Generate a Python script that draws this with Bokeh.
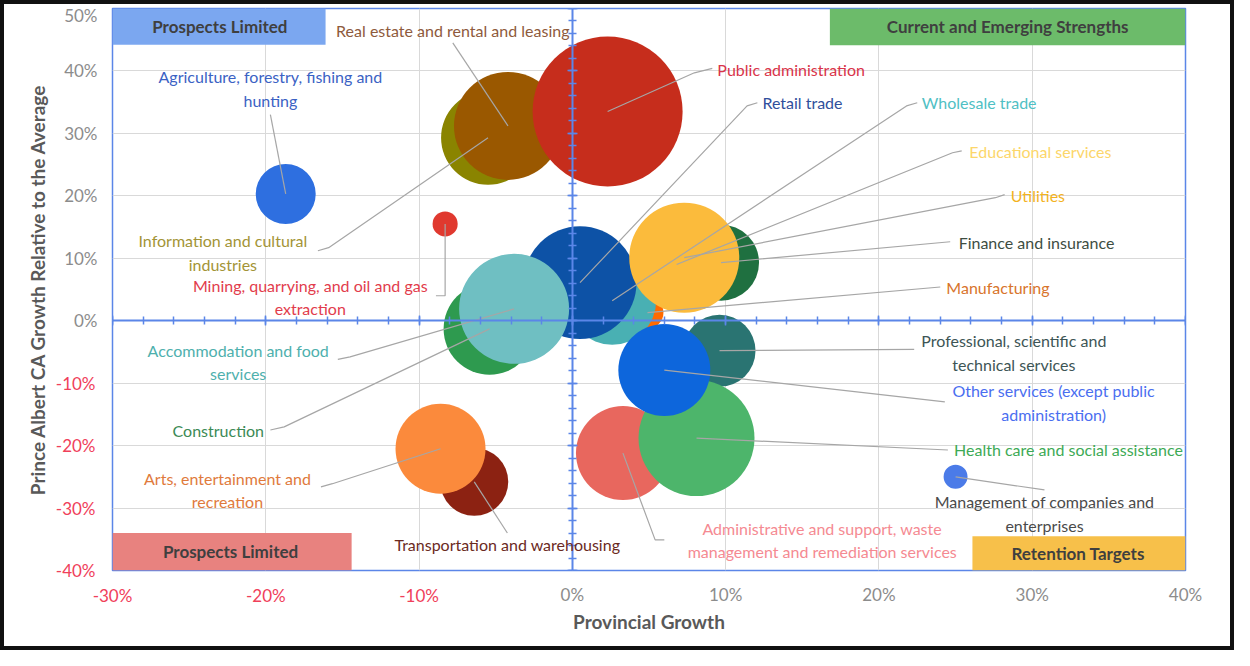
import numpy as np
from bokeh.plotting import figure
from bokeh.models import (LinearAxis, FixedTicker, SingleIntervalTicker, Grid, Range1d,
                          PrintfTickFormatter, BoxAnnotation, Label, ColumnDataSource)
from bokeh.embed import file_html
from bokeh.resources import INLINE

# ---------------- data (draw order: back to front) ----------------
industries = [
    "Information and cultural industries",
    "Real estate and rental and leasing",
    "Public administration",
    "Manufacturing",
    "Wholesale trade",
    "Retail trade",
    "Construction",
    "Accommodation and food services",
    "Finance and insurance",
    "Educational services",
    "Utilities",
    "Professional, scientific and technical services",
    "Administrative and support, waste management and remediation services",
    "Health care and social assistance",
    "Other services (except public administration)",
    "Transportation and warehousing",
    "Arts, entertainment and recreation",
    "Agriculture, forestry, fishing and hunting",
    "Mining, quarrying, and oil and gas extraction",
    "Management of companies and enterprises",
]
provincial_growth = [-5.5, -4.2, 2.3, 4.9, 2.6, 0.5, -5.4, -3.8, 9.7, 6.8,
                     7.3, 9.6, 3.3, 8.1, 6.0, -6.4, -8.6, -18.7, -8.3, 25.0]
relative_growth = [29.3, 31.2, 33.5, 1.3, 3.2, 6.1, -1.3, 1.9, 9.3, 9.0,
                   10.1, -4.8, -21.2, -18.8, -7.9, -25.8, -20.5, 20.3, 15.5, -25.0]
employment = [785, 1037, 2000, 91, 688, 1135, 752, 1076, 513, 222,
              1076, 461, 785, 1196, 752, 411, 720, 320, 56, 51]

x_ticks = [-30, -20, -10, 0, 10, 20, 30, 40]
y_ticks = [-40, -30, -20, -10, 0, 10, 20, 30, 40, 50]

quadrants = ["Prospects Limited", "Current and Emerging Strengths",
             "Prospects Limited", "Retention Targets"]

# ---------------- styles / layout ----------------
bubble_colors = ["#8a8400", "#9a5800", "#c62d1c", "#ff6a00", "#49b0b3", "#0d52a6",
                 "#2e9a4f", "#6fbfc2", "#1f7040", "#f7c95a", "#fbbb3c", "#2a7472",
                 "#e8675e", "#4db56b", "#0d66dc", "#8c2212", "#fb8a3c", "#2e6fe0",
                 "#e0392f", "#4b7be8"]
label_text = [
    "Information and cultural\nindustries",
    "Real estate and rental and leasing",
    "Public administration",
    "Manufacturing",
    "Wholesale trade",
    "Retail trade",
    "Construction",
    "Accommodation and food\nservices",
    "Finance and insurance",
    "Educational services",
    "Utilities",
    "Professional, scientific and\ntechnical services",
    "Administrative and support, waste\nmanagement and remediation services",
    "Health care and social assistance",
    "Other services (except public\nadministration)",
    "Transportation and warehousing",
    "Arts, entertainment and\nrecreation",
    "Agriculture, forestry, fishing and\nhunting",
    "Mining, quarrying, and oil and gas\nextraction",
    "Management of companies and\nenterprises",
]
label_pos = [(-22.8, 10.9), (-7.8, 46.4), (9.46, 40.2), (24.4, 5.3), (22.8, 34.9),
             (12.4, 34.9), (-23.1, -17.5), (-21.8, -6.6), (25.2, 12.5), (25.9, 27.1),
             (28.6, 20.0), (28.8, -5.1), (16.3, -35.1), (24.9, -20.7), (31.4, -13.1),
             (-4.24, -35.9), (-22.5, -27.1), (-19.7, 37.2), (-17.1, 3.8), (30.8, -30.9)]
label_align = ["center", "center", "left", "left", "left", "left", "center", "center",
               "left", "left", "left", "center", "center", "left", "center", "center",
               "center", "center", "center", "center"]
label_colors = ["#a39436", "#8e5a3c", "#d9344a", "#d8742c", "#4fc0c4", "#2f4f9c",
                "#3b8a55", "#4eb0ad", "#3d4d42", "#fcd66a", "#f3b31f", "#3d5555",
                "#f58a92", "#3daa55", "#4a6ef0", "#6b2a1e", "#e07a3c", "#3b62c4",
                "#e23c4c", "#4a4a4a"]
leader_pts = [[(-16.6, 11.2), (-15.9, 11.7)], [(-7.8, 44.5)], [(9.13, 40.4), (7.96, 39.7)],
              [(24.0, 5.4)], [(22.5, 34.9), (21.8, 34.4)], [(12.07, 34.9), (11.4, 34.4)],
              [(-19.7, -17.5), (-18.8, -17.0)], [(-15.3, -6.2), (-14.5, -5.8)],
              [(24.65, 12.65)], [(25.4, 27.2), (24.8, 26.9)], [(28.2, 20.2), (27.6, 19.7)],
              [(22.3, -4.6)], [(6.0, -35.1), (5.4, -35.1)], [(24.5, -20.7)], [(24.3, -13.0)],
              [(-4.24, -34.0)], [(-16.4, -26.6), (-15.65, -26.1)], [(-19.7, 33.0)],
              [(-8.9, 4.0), (-8.3, 4.0)], [(30.8, -27.1)]]

quad_boxes = [(-30, -16.1, 44.2, 50), (16.8, 40, 44.1, 50),
              (-30, -14.4, -40, -34.0), (26.1, 40, -40, -34.5)]
quad_colors = ["#7ba7f0", "#6cbb6a", "#e8827f", "#f7c04a"]
qlabel_pos = [(-23.0, 47.1), (28.4, 47.1), (-22.3, -37.0), (33.0, -37.3)]

FONT = "Lato"
BLUE = "#5b86e8"
RED_TXT = "#f0405a"
GRAY_TXT = "#8c8c8c"
TITLE_TXT = "#595959"
SCALE = 3.354
TICK_FS = "17px"

p = figure(width=1234, height=650, output_backend="svg", toolbar_location=None,
           x_range=Range1d(-30, 40), y_range=Range1d(-40, 50),
           x_axis_type=None, y_axis_type=None,
           min_border_left=108, min_border_right=53, min_border_top=4, min_border_bottom=84)
p.styles = {"border": "4px solid #111111"}
p.outline_line_color = BLUE
p.outline_line_width = 1.5
p.background_fill_color = "white"

# grids
p.add_layout(Grid(dimension=0, ticker=FixedTicker(ticks=x_ticks), grid_line_color="#d9d9d9"))
p.add_layout(Grid(dimension=1, ticker=FixedTicker(ticks=y_ticks), grid_line_color="#d9d9d9"))

fmt = PrintfTickFormatter(format="%d%%")

def edge_axis(ticks, color, **kw):
    return LinearAxis(ticker=FixedTicker(ticks=ticks), formatter=fmt,
                      axis_line_color=None, major_tick_line_color=None, minor_tick_line_color=None,
                      major_tick_in=0, major_tick_out=0, minor_tick_in=0, minor_tick_out=0,
                      major_label_text_color=color, major_label_text_font=FONT,
                      major_label_text_font_size=TICK_FS,
                      axis_label_text_font=FONT, axis_label_text_font_size="19px",
                      axis_label_text_font_style="bold", axis_label_text_color=TITLE_TXT, **kw)

# inner axes carry the negative (red) tick labels; outer axes are pulled back
# with a negative standoff so that their (grey) labels sit on the same line.
X_STANDOFF, X_LABEL_H = 14, 25
Y_STANDOFF, Y_LABEL_W = 17, 45
p.add_layout(edge_axis([t for t in x_ticks if t < 0], RED_TXT,
                       major_label_standoff=X_STANDOFF), "below")
p.add_layout(edge_axis([t for t in x_ticks if t >= 0], GRAY_TXT, axis_label="Provincial Growth",
                       major_label_standoff=-X_LABEL_H, axis_label_standoff=2), "below")
p.add_layout(edge_axis([t for t in y_ticks if t < 0], RED_TXT,
                       major_label_standoff=Y_STANDOFF), "left")
p.add_layout(edge_axis([t for t in y_ticks if t >= 0], GRAY_TXT,
                       axis_label="Prince Albert CA Growth Relative to the Average",
                       major_label_standoff=-Y_LABEL_W, axis_label_standoff=12), "left")

# zero-crossing axes
for side in ("below", "left"):
    ax = LinearAxis(fixed_location=0, ticker=SingleIntervalTicker(interval=10, num_minor_ticks=5),
                    axis_line_color=BLUE, axis_line_width=2,
                    major_tick_line_color=BLUE, minor_tick_line_color=BLUE,
                    major_tick_line_width=1.5, minor_tick_line_width=1.5,
                    major_tick_in=5, major_tick_out=5, minor_tick_in=4, minor_tick_out=4,
                    major_label_text_color=None, major_label_text_font_size="1px")
    p.add_layout(ax, side)

# quadrant boxes
for (l, r, b, t), c, txt, (lx, ly) in zip(quad_boxes, quad_colors, quadrants, qlabel_pos):
    p.add_layout(BoxAnnotation(left=l, right=r, bottom=b, top=t, fill_color=c,
                               fill_alpha=1.0, line_color=None, level="underlay"))
    p.add_layout(Label(x=lx, y=ly, text=txt, text_align="center", text_baseline="middle",
                       text_font=FONT, text_font_size="17px", text_font_style="bold",
                       text_color="#3f3f3f"))

# bubbles
sizes = SCALE * np.sqrt(np.array(employment, dtype=float))
src = ColumnDataSource(dict(x=provincial_growth, y=relative_growth, size=sizes,
                            color=bubble_colors, name=industries))
p.scatter("x", "y", size="size", fill_color="color", line_color=None, fill_alpha=1.0, source=src)

# leader lines
xs, ys = [], []
for pts, bx, by in zip(leader_pts, provincial_growth, relative_growth):
    xs.append([q[0] for q in pts] + [bx])
    ys.append([q[1] for q in pts] + [by])
p.multi_line(xs, ys, line_color="#a6a6a6", line_width=1.2)

# data labels
for txt, (lx, ly), al, c in zip(label_text, label_pos, label_align, label_colors):
    p.add_layout(Label(x=lx, y=ly, text=txt, text_align=al, text_baseline="middle",
                       text_font=FONT, text_font_size="16px", text_color=c,
                       text_line_height=1.25))

open("out.html", "w").write(file_html(p, INLINE))
